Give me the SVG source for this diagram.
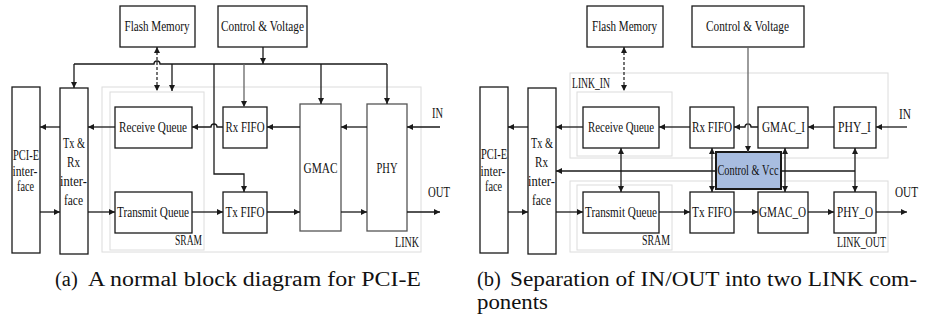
<svg xmlns="http://www.w3.org/2000/svg" width="938" height="320" viewBox="0 0 938 320" font-family="'Liberation Serif', Tinos, 'Times New Roman', 'DejaVu Serif', serif">
<style>
.box{fill:#fff;stroke:#1a1a1a;stroke-width:1.3}
.gbox{fill:#fff;stroke:#555;stroke-width:1.3}
.cv{fill:#a8bde0;stroke:#1a1a1a;stroke-width:2}
.reg{fill:none;stroke:#dcdcdc;stroke-width:1}
.ln{fill:none;stroke:#1a1a1a;stroke-width:1.3}
.gl{fill:none;stroke:#666;stroke-width:1.3}
.dash{fill:none;stroke:#1a1a1a;stroke-width:1.2;stroke-dasharray:3,2}
text{font-family:'Liberation Serif', Tinos, 'Times New Roman', 'DejaVu Serif', serif;fill:#111}
.t{font-size:14px;text-anchor:middle}
.s{font-size:14px}
.cap{font-size:20.5px}
</style>
<defs>
<marker id="ah" viewBox="0 0 6 6" refX="6" refY="3" markerWidth="6" markerHeight="6" markerUnits="userSpaceOnUse" orient="auto-start-reverse">
<path d="M0,0 L6,3 L0,6 z" fill="#1a1a1a"/>
</marker>
</defs>

<g id="regions">
<rect class="reg" x="102" y="87" width="319" height="165"/>
<rect class="reg" x="110" y="92" width="94" height="158"/>
<rect class="reg" x="570" y="73" width="318" height="85"/>
<rect class="reg" x="577" y="92" width="95" height="64"/>
<rect class="reg" x="570" y="181" width="318" height="71"/>
<rect class="reg" x="577" y="185" width="95" height="65"/>
</g>

<g id="a-flash"><rect class="box" x="120" y="6" width="75" height="41"/><text class="t" x="157" y="31" textLength="65" lengthAdjust="spacingAndGlyphs">Flash Memory</text></g>
<g id="a-control"><rect class="box" x="218" y="6" width="89" height="41"/><text class="t" x="262.5" y="31" textLength="83" lengthAdjust="spacingAndGlyphs">Control &amp; Voltage</text></g>
<g id="a-pcie"><rect class="box" x="12" y="87" width="28" height="166"/>
<text class="t" x="26" y="160" textLength="26" lengthAdjust="spacingAndGlyphs">PCI-E</text>
<text class="t" x="25" y="176" textLength="25" lengthAdjust="spacingAndGlyphs">inter-</text>
<text class="t" x="25.5" y="191" textLength="17" lengthAdjust="spacingAndGlyphs">face</text></g>
<g id="a-txrx"><rect class="box" x="60" y="88" width="28" height="166"/>
<text class="t" x="74" y="148" textLength="22" lengthAdjust="spacingAndGlyphs">Tx &amp;</text>
<text class="t" x="73.5" y="167" textLength="13" lengthAdjust="spacingAndGlyphs">Rx</text>
<text class="t" x="73.5" y="186" textLength="27" lengthAdjust="spacingAndGlyphs">inter-</text>
<text class="t" x="73.5" y="205" textLength="19" lengthAdjust="spacingAndGlyphs">face</text></g>
<g id="a-recvq"><rect class="box" x="115" y="107" width="77" height="41"/><text class="t" x="153" y="132" textLength="68" lengthAdjust="spacingAndGlyphs">Receive Queue</text></g>
<g id="a-transq"><rect class="box" x="115" y="192" width="77" height="41"/><text class="t" x="153" y="217" textLength="72" lengthAdjust="spacingAndGlyphs">Transmit Queue</text></g>
<g id="a-rxfifo"><rect class="box" x="223" y="107" width="44" height="41"/><text class="t" x="245" y="132" textLength="39" lengthAdjust="spacingAndGlyphs">Rx FIFO</text></g>
<g id="a-txfifo"><rect class="box" x="223" y="192" width="44" height="41"/><text class="t" x="245" y="217" textLength="39" lengthAdjust="spacingAndGlyphs">Tx FIFO</text></g>
<g id="a-gmac"><rect class="gbox" x="300" y="104" width="41" height="127"/><text class="t" x="320.5" y="173" textLength="34" lengthAdjust="spacingAndGlyphs">GMAC</text></g>
<g id="a-phy"><rect class="gbox" x="367" y="104" width="40" height="127"/><text class="t" x="387" y="173" textLength="21" lengthAdjust="spacingAndGlyphs">PHY</text></g>
<g id="a-labels">
<text class="s" x="175" y="245" textLength="27" lengthAdjust="spacingAndGlyphs">SRAM</text>
<text class="s" x="395" y="247" textLength="24" lengthAdjust="spacingAndGlyphs">LINK</text>
<text class="s" x="432" y="118" textLength="11" lengthAdjust="spacingAndGlyphs">IN</text>
<text class="s" x="428" y="197" textLength="22" lengthAdjust="spacingAndGlyphs">OUT</text>
</g>

<g id="b-flash"><rect class="box" x="587" y="6" width="76" height="41"/><text class="t" x="624.5" y="31" textLength="65" lengthAdjust="spacingAndGlyphs">Flash Memory</text></g>
<g id="b-control"><rect class="box" x="692" y="6" width="112" height="41"/><text class="t" x="747.5" y="31" textLength="83" lengthAdjust="spacingAndGlyphs">Control &amp; Voltage</text></g>
<g id="b-pcie"><rect class="box" x="480" y="87" width="28" height="166"/>
<text class="t" x="494" y="159" textLength="26" lengthAdjust="spacingAndGlyphs">PCI-E</text>
<text class="t" x="493" y="176" textLength="25" lengthAdjust="spacingAndGlyphs">inter-</text>
<text class="t" x="493.5" y="191" textLength="17" lengthAdjust="spacingAndGlyphs">face</text></g>
<g id="b-txrx"><rect class="box" x="528" y="88" width="28" height="166"/>
<text class="t" x="542" y="148" textLength="22" lengthAdjust="spacingAndGlyphs">Tx &amp;</text>
<text class="t" x="541.5" y="167" textLength="13" lengthAdjust="spacingAndGlyphs">Rx</text>
<text class="t" x="541.5" y="186" textLength="27" lengthAdjust="spacingAndGlyphs">inter-</text>
<text class="t" x="541.5" y="205" textLength="19" lengthAdjust="spacingAndGlyphs">face</text></g>
<g id="b-recvq"><rect class="box" x="583" y="107" width="76" height="41"/><text class="t" x="621" y="132" textLength="66" lengthAdjust="spacingAndGlyphs">Receive Queue</text></g>
<g id="b-transq"><rect class="box" x="583" y="192" width="76" height="41"/><text class="t" x="621" y="217" textLength="72" lengthAdjust="spacingAndGlyphs">Transmit Queue</text></g>
<g id="b-rxfifo"><rect class="box" x="690" y="107" width="44" height="41"/><text class="t" x="712" y="132" textLength="40" lengthAdjust="spacingAndGlyphs">Rx FIFO</text></g>
<g id="b-txfifo"><rect class="box" x="690" y="192" width="44" height="41"/><text class="t" x="712" y="217" textLength="40" lengthAdjust="spacingAndGlyphs">Tx FIFO</text></g>
<g id="b-gmaci"><rect class="box" x="758" y="107" width="50" height="41"/><text class="t" x="783.5" y="132" textLength="43" lengthAdjust="spacingAndGlyphs">GMAC_I</text></g>
<g id="b-gmaco"><rect class="box" x="758" y="192" width="50" height="41"/><text class="t" x="782.5" y="217" textLength="47" lengthAdjust="spacingAndGlyphs">GMAC_O</text></g>
<g id="b-phyi"><rect class="box" x="834" y="107" width="42" height="41"/><text class="t" x="854.5" y="132" textLength="33" lengthAdjust="spacingAndGlyphs">PHY_I</text></g>
<g id="b-phyo"><rect class="box" x="834" y="192" width="42" height="41"/><text class="t" x="855" y="217" textLength="36" lengthAdjust="spacingAndGlyphs">PHY_O</text></g>
<g id="b-cvcc"><rect class="cv" x="716" y="152" width="65" height="37"/><text class="t" x="748" y="175" textLength="61" lengthAdjust="spacingAndGlyphs">Control &amp; Vcc</text></g>
<g id="b-labels">
<text class="s" x="572" y="88" textLength="38" lengthAdjust="spacingAndGlyphs">LINK_IN</text>
<text class="s" x="642" y="245" textLength="28" lengthAdjust="spacingAndGlyphs">SRAM</text>
<text class="s" x="837" y="247" textLength="49" lengthAdjust="spacingAndGlyphs">LINK_OUT</text>
<text class="s" x="899" y="119" textLength="12" lengthAdjust="spacingAndGlyphs">IN</text>
<text class="s" x="895" y="197" textLength="23" lengthAdjust="spacingAndGlyphs">OUT</text>
</g>

<g id="connectors">
<path class="ln" d="M60,127 L40,127" marker-end="url(#ah)"/>
<path class="ln" d="M115,127 L88,127" marker-end="url(#ah)"/>
<path class="ln" d="M223,127 L217,127 A3,3 0 0 0 211,127 L192,127" marker-end="url(#ah)"/>
<path class="ln" d="M300,127 L267,127" marker-end="url(#ah)"/>
<path class="ln" d="M367,127 L341,127" marker-end="url(#ah)"/>
<path class="ln" d="M440,127 L407,127" marker-end="url(#ah)"/>
<path class="ln" d="M40,212 L60,212" marker-end="url(#ah)"/>
<path class="ln" d="M88,212 L115,212" marker-end="url(#ah)"/>
<path class="ln" d="M192,212 L223,212" marker-end="url(#ah)"/>
<path class="ln" d="M267,212 L300,212" marker-end="url(#ah)"/>
<path class="ln" d="M341,212 L367,212" marker-end="url(#ah)"/>
<path class="ln" d="M407,212 L440,212" marker-end="url(#ah)"/>
<path class="ln" d="M74,64 L154,64 A3,3 0 0 1 160,64 L387,64"/>
<path class="ln" d="M74,64 V88" marker-end="url(#ah)"/>
<path class="ln" d="M172,64 V91" marker-end="url(#ah)"/>
<path class="gl" d="M244,64 V107" marker-end="url(#ah)"/>
<path class="ln" d="M321,64 V104" marker-end="url(#ah)"/>
<path class="ln" d="M387,64 V104" marker-end="url(#ah)"/>
<path class="ln" d="M263,47 V64" marker-end="url(#ah)"/>
<path class="ln" d="M214,64 V174 H244 V192" marker-end="url(#ah)"/>
<path class="dash" d="M157,47 V91" marker-start="url(#ah)" marker-end="url(#ah)"/>
<path class="ln" d="M528,127 L508,127" marker-end="url(#ah)"/>
<path class="ln" d="M583,127 L556,127" marker-end="url(#ah)"/>
<path class="ln" d="M690,127 L659,127" marker-end="url(#ah)"/>
<path class="ln" d="M758,127 L751,127 A3,3 0 0 0 745,127 L734,127" marker-end="url(#ah)"/>
<path class="ln" d="M834,127 L808,127" marker-end="url(#ah)"/>
<path class="ln" d="M907,127 L876,127" marker-end="url(#ah)"/>
<path class="ln" d="M508,212 L528,212" marker-end="url(#ah)"/>
<path class="ln" d="M556,212 L583,212" marker-end="url(#ah)"/>
<path class="ln" d="M659,212 L690,212" marker-end="url(#ah)"/>
<path class="ln" d="M734,212 L758,212" marker-end="url(#ah)"/>
<path class="ln" d="M808,212 L834,212" marker-end="url(#ah)"/>
<path class="ln" d="M876,212 L907,212" marker-end="url(#ah)"/>
<path class="dash" d="M624,47 V91" marker-start="url(#ah)" marker-end="url(#ah)"/>
<path class="gl" d="M748,47 V152" marker-end="url(#ah)"/>
<path class="ln" d="M716,171 H556" marker-end="url(#ah)"/>
<path class="ln" d="M781,171 H855"/>
<path class="ln" d="M621,148 V192" marker-start="url(#ah)" marker-end="url(#ah)"/>
<path class="ln" d="M712,148 V192" marker-start="url(#ah)" marker-end="url(#ah)"/>
<path class="ln" d="M785,148 V192" marker-start="url(#ah)" marker-end="url(#ah)"/>
<path class="ln" d="M855,148 V192" marker-start="url(#ah)" marker-end="url(#ah)"/>
</g>

<g id="captions">
<text class="cap" x="55" y="286">(a)<tspan x="88" textLength="333" lengthAdjust="spacingAndGlyphs">A normal block diagram for PCI-E</tspan></text>
<text class="cap" x="477" y="286">(b)<tspan x="510" textLength="407" lengthAdjust="spacingAndGlyphs">Separation of IN/OUT into two LINK com-</tspan></text>
<text class="cap" x="477" y="309" textLength="71" lengthAdjust="spacingAndGlyphs">ponents</text>
</g>
</svg>
